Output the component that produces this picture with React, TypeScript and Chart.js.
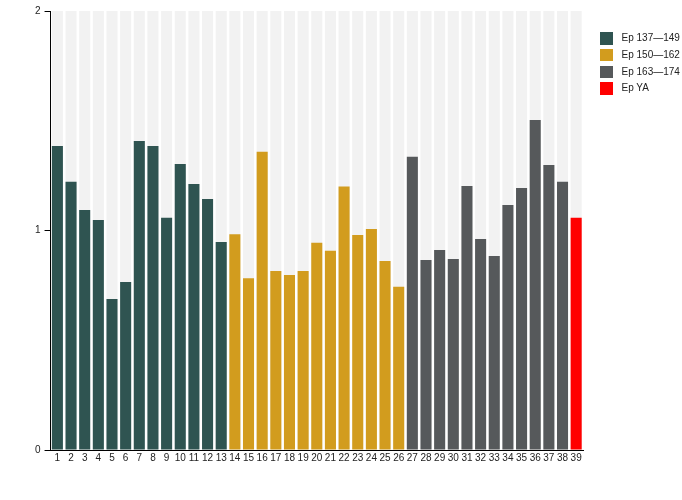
import React, { useEffect, useRef } from 'react';
import { Chart, ChartConfiguration, registerables } from 'chart.js';

Chart.register(...registerables);

const categories = [
  '1', '2', '3', '4', '5', '6', '7', '8', '9', '10', '11', '12', '13',
  '14', '15', '16', '17', '18', '19', '20', '21', '22', '23', '24', '25', '26',
  '27', '28', '29', '30', '31', '32', '33', '34', '35', '36', '37', '38', '39',
];

const values = [
  1.385, 1.222, 1.093, 1.048, 0.688, 0.765, 1.408, 1.385, 1.058, 1.303, 1.212, 1.143, 0.948,
  0.983, 0.782, 1.359, 0.815, 0.797, 0.815, 0.944, 0.908, 1.2, 0.979, 1.007, 0.861, 0.744,
  1.336, 0.866, 0.911, 0.87, 1.203, 0.961, 0.884, 1.116, 1.194, 1.503, 1.298, 1.222,
  1.058,
];

// which legend group each bar belongs to
const barGroups = [
  0, 0, 0, 0, 0, 0, 0, 0, 0, 0, 0, 0, 0,
  1, 1, 1, 1, 1, 1, 1, 1, 1, 1, 1, 1, 1,
  2, 2, 2, 2, 2, 2, 2, 2, 2, 2, 2, 2,
  3,
];

const groupNames = ['Ep 137\u2014149', 'Ep 150\u2014162', 'Ep 163\u2014174', 'Ep YA'];
const groupColors = ['#2f5451', '#d29c1e', '#56595b', '#ff0000'];

const yMax = 2;
const yTicks = [0, 1, 2];

const fontFamily = '"Liberation Sans", Arial, sans-serif';
const font = { family: fontFamily, size: 10 };

const App: React.FC = () => {
  const canvasRef = useRef<HTMLCanvasElement>(null);
  const chartRef = useRef<Chart | null>(null);

  useEffect(() => {
    if (!canvasRef.current) return;
    const ctx = canvasRef.current.getContext('2d');
    if (!ctx) return;
    if (chartRef.current) chartRef.current.destroy();

    const config: ChartConfiguration<'bar'> = {
      type: 'bar',
      data: {
        labels: categories,
        datasets: [
          {
            label: 'values',
            data: values,
            backgroundColor: barGroups.map(g => groupColors[g]),
            grouped: false,
            order: 1,
            categoryPercentage: 1,
            barPercentage: 0.81,
          },
          {
            label: 'background',
            data: categories.map(() => yMax),
            backgroundColor: '#f2f2f2',
            grouped: false,
            order: 2,
            categoryPercentage: 1,
            barPercentage: 0.81,
          },
        ],
      },
      options: {
        animation: false,
        responsive: false,
        maintainAspectRatio: false,
        layout: {
          padding: { left: 31, right: 99, top: 11, bottom: 34 },
        },
        plugins: {
          tooltip: { enabled: false },
          legend: { display: false },
        },
        scales: {
          x: {
            grid: { display: false, drawTicks: false },
            border: { display: true, color: '#000', width: 1 },
            ticks: {
              font,
              color: '#222',
              maxRotation: 0,
              autoSkip: false,
              padding: 2,
            },
          },
          y: {
            min: 0,
            max: yMax,
            afterBuildTicks: axis => {
              axis.ticks = yTicks.map(v => ({ value: v }));
            },
            grid: {
              drawOnChartArea: false,
              drawTicks: true,
              tickLength: 6,
              color: '#000',
            },
            border: { display: true, color: '#000', width: 1 },
            ticks: { font, color: '#222', padding: 4 },
          },
        },
      },
    };

    chartRef.current = new Chart(ctx, config);
    return () => {
      if (chartRef.current) {
        chartRef.current.destroy();
        chartRef.current = null;
      }
    };
  }, []);

  return (
    <div style={{ position: 'fixed', left: 0, top: 0, width: 682, height: 500, background: '#fff' }}>
      <canvas ref={canvasRef} width={682} height={500} style={{ width: 682, height: 500 }} />
      {groupNames.map((name, i) => (
        <div
          key={name}
          style={{
            position: 'absolute',
            left: 600,
            top: 32.3 + i * 16.67,
            height: 12.5,
            display: 'flex',
            alignItems: 'center',
            fontFamily,
            fontSize: 10,
            color: '#222',
            whiteSpace: 'nowrap',
          }}
        >
          <span style={{ display: 'inline-block', width: 12.5, height: 12.5, background: groupColors[i] }} />
          <span style={{ marginLeft: 9, lineHeight: '12.5px' }}>{name}</span>
        </div>
      ))}
    </div>
  );
};

export default App;
